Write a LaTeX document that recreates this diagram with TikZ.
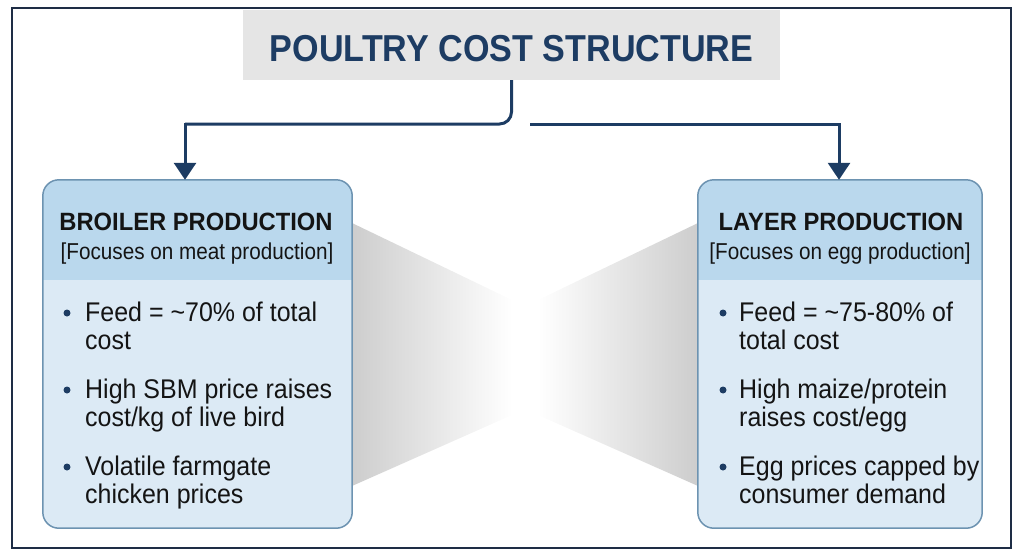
\documentclass[tikz,border=0pt]{standalone}
\usepackage{fontspec}
\setmainfont{Liberation Sans}
\newfontfamily\titlefont{Liberation Sans}[FakeStretch=0.91]
\newfontfamily\headfont{Liberation Sans}[FakeStretch=0.95]
\newfontfamily\subfont{Liberation Sans}[FakeStretch=0.90]
\newfontfamily\bodyfont{Liberation Sans}[FakeStretch=0.925]
\usetikzlibrary{arrows.meta,calc}
\definecolor{navy}{HTML}{1D3C63}
\definecolor{framec}{HTML}{1E2D45}
\definecolor{titlefill}{HTML}{E5E5E5}
\definecolor{headfill}{HTML}{BAD8ED}
\definecolor{bodyfill}{HTML}{DCEAF5}
\definecolor{boxborder}{HTML}{6D93B1}
\definecolor{shadowgray}{HTML}{CDCDCD}
\definecolor{textdark}{HTML}{141414}
\begin{document}
\begin{tikzpicture}[x=1pt,y=-1pt,
  frame/.style={draw=framec,line width=1.5pt},
  titlebox/.style={fill=titlefill,draw=none,minimum width=537pt,minimum height=70pt,inner sep=0pt},
  titletxt/.style={font=\titlefont\bfseries\fontsize{37.5}{40}\selectfont,text=navy,anchor=base,inner sep=0pt},
  card/.style={draw=none,fill=bodyfill,rounded corners=16pt,inner sep=0pt},
  cardborder/.style={draw=boxborder,line width=1.5pt,rounded corners=16pt},
  headtxt/.style={font=\headfont\bfseries\fontsize{25}{28}\selectfont,text=textdark,anchor=base,inner sep=0pt},
  subtxt/.style={font=\subfont\fontsize{23}{26}\selectfont,text=textdark,anchor=base,inner sep=0pt},
  bodytxt/.style={font=\bodyfont\fontsize{27}{29}\selectfont,text=textdark,anchor=base west,inner sep=0pt},
  dot/.style={circle,fill=navy,draw=none,minimum size=7pt,inner sep=0pt},
  conn/.style={draw=navy,line width=3pt,-{Triangle[width=22pt,length=17pt]}},
  connplain/.style={draw=navy,line width=3pt}
]
\useasboundingbox (0,0) rectangle (1024,559);
\draw[frame] (12,8) rectangle (1011,548);

% gray funnel shadows
\shade[left color=shadowgray,right color=white] (352,223) -- (512,300) -- (512,415) -- (352,486) -- cycle;
\shade[left color=white,right color=shadowgray] (538,300) -- (698,223) -- (698,486) -- (538,415) -- cycle;

% title
\node[titlebox] (title) at (511.5,45) {};
\node[titletxt] (titletext) at (511.5,62) {POULTRY COST STRUCTURE};

% cards
\node[card,minimum width=309pt,minimum height=348pt] (broiler) at (197.5,354) {};
\node[card,minimum width=284pt,minimum height=348pt] (layer) at (840,354) {};
\begin{scope}
  \clip[rounded corners=16pt] (broiler.south west) rectangle (broiler.north east);
  \fill[headfill] (broiler.north west) rectangle ($(broiler.north east)+(0,100)$);
\end{scope}
\begin{scope}
  \clip[rounded corners=16pt] (layer.south west) rectangle (layer.north east);
  \fill[headfill] (layer.north west) rectangle ($(layer.north east)+(0,100)$);
\end{scope}
\draw[cardborder] (broiler.south west) rectangle (broiler.north east);
\draw[cardborder] (layer.south west) rectangle (layer.north east);

% connectors
\coordinate (la) at (185,124);
\coordinate (lt) at (185,122.5);
\coordinate (rs) at (530,124);
\coordinate (ra) at (839,124);
\draw[connplain,rounded corners=12pt] (title.south) |- (la);
\draw[conn] (lt) -- (lt |- broiler.north);
\draw[conn] (rs) -- (ra) -- (ra |- layer.north);

% left card text
\node[headtxt] (bh) at (196,230) {BROILER PRODUCTION};
\node[subtxt] (bs) at (197,259) {[Focuses on meat production]};
\node[dot] (bd1) at (67,313) {};
\node[bodytxt] (b1a) at (85,321) {Feed = \textasciitilde70\% of total};
\node[bodytxt] (b1b) at (85,349) {cost};
\node[dot] (bd2) at (67,390) {};
\node[bodytxt] (b2a) at (85,398) {High SBM price raises};
\node[bodytxt] (b2b) at (85,426) {cost/kg of live bird};
\node[dot] (bd3) at (67,467) {};
\node[bodytxt] (b3a) at (85,475) {Volatile farmgate};
\node[bodytxt] (b3b) at (85,503) {chicken prices};

% right card text
\node[headtxt] (lh) at (841,230) {LAYER PRODUCTION};
\node[subtxt] (ls) at (840,259) {[Focuses on egg production]};
\node[dot] (ld1) at (723,313) {};
\node[bodytxt] (l1a) at (739,321) {Feed = \textasciitilde75-80\% of};
\node[bodytxt] (l1b) at (739,349) {total cost};
\node[dot] (ld2) at (723,390) {};
\node[bodytxt] (l2a) at (739,398) {High maize/protein};
\node[bodytxt] (l2b) at (739,426) {raises cost/egg};
\node[dot] (ld3) at (723,467) {};
\node[bodytxt] (l3a) at (739,475) {Egg prices capped by};
\node[bodytxt] (l3b) at (739,503) {consumer demand};
\end{tikzpicture}
\end{document}
